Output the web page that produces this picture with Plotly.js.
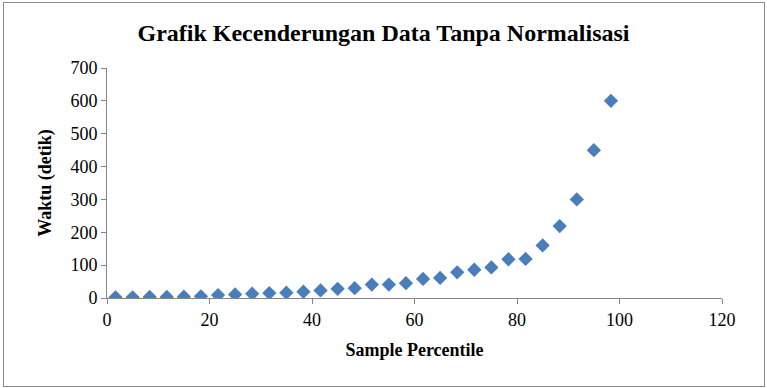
<!DOCTYPE html>
<html>
<head>
<meta charset="utf-8">
<script src="https://cdn.plot.ly/plotly-3.0.1.min.js"></script>
<style>
  html, body { margin: 0; padding: 0; background: #fff; }
  #chart { width: 767px; height: 388px; }
  #chart svg text { font-family: 'Liberation Serif', serif !important; }
  #frame { position: absolute; left: 3px; top: 2px; width: 760px; height: 383px;
           border: 1px solid #8a8a8a; pointer-events: none; }
</style>
</head>
<body>
<div id="chart"></div>
<div id="frame"></div>
<script>
// Sample percentile of each observation
const percentile = [1.67, 5, 8.33, 11.67, 15, 18.33, 21.67, 25, 28.33, 31.67,
                    35, 38.33, 41.67, 45, 48.33, 51.67, 55, 58.33, 61.67, 65,
                    68.33, 71.67, 75, 78.33, 81.67, 85, 88.33, 91.67, 95, 98.33];
// Processing time in seconds (no normalisation)
const waktu = [2, 2, 3, 3, 4, 5, 9, 11, 13, 15,
               16, 19, 23, 28, 30, 41, 41, 45, 58, 61,
               78, 86, 93, 118, 119, 160, 219, 300, 450, 600];

const fontFamily = 'Liberation Serif';
const axisColor = '#868686';

Plotly.newPlot('chart', [{
  x: percentile,
  y: waktu,
  type: 'scatter',
  mode: 'markers',
  marker: { symbol: 'diamond', size: 11, color: '#4a7ebb' },
  hoverinfo: 'x+y'
}], {
  width: 767,
  height: 388,
  margin: { l: 107, r: 45, t: 68, b: 90 },
  paper_bgcolor: '#ffffff',
  plot_bgcolor: '#ffffff',
  showlegend: false,
  font: { family: fontFamily, color: '#000' },
  title: {
    text: '<b>Grafik Kecenderungan Data Tanpa Normalisasi</b>',
    font: { family: fontFamily, size: 24, color: '#000' },
    x: 0.5, xanchor: 'center', y: 0.915, yanchor: 'middle'
  },
  xaxis: {
    range: [0, 120],
    tickvals: [0, 20, 40, 60, 80, 100, 120],
    showgrid: false, zeroline: false,
    showline: true, linecolor: axisColor, linewidth: 1,
    ticks: 'outside', ticklen: 5, tickcolor: axisColor,
    tickfont: { family: fontFamily, size: 18, color: '#000' },
    title: { text: '<b>Sample Percentile</b>', font: { family: fontFamily, size: 18, color: '#000' }, standoff: 14 }
  },
  yaxis: {
    range: [0, 700],
    tickvals: [0, 100, 200, 300, 400, 500, 600, 700],
    showgrid: false, zeroline: false,
    showline: true, linecolor: axisColor, linewidth: 1,
    ticks: 'outside', ticklen: 5, tickcolor: axisColor,
    tickfont: { family: fontFamily, size: 18, color: '#000' },
    title: { text: '<b>Waktu (detik)</b>', font: { family: fontFamily, size: 18, color: '#000' }, standoff: 14 }
  }
}, { displayModeBar: false });
</script>
</body>
</html>
